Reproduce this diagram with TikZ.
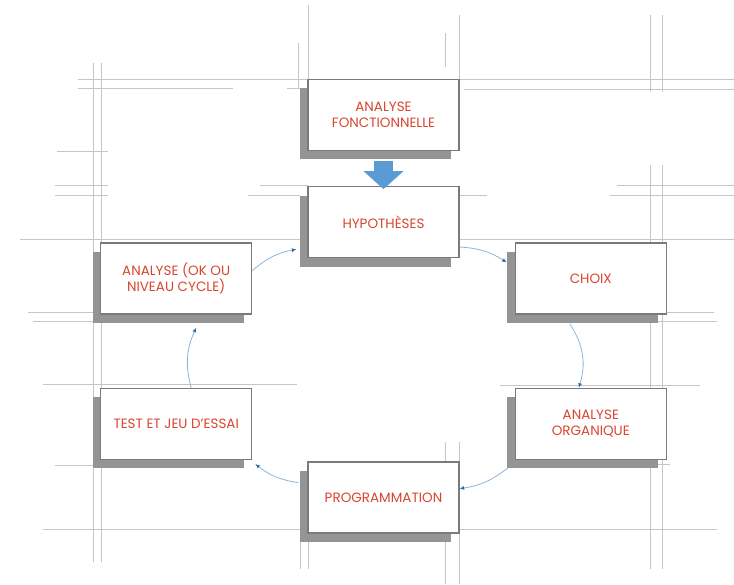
\documentclass[tikz,border=0pt]{standalone}
\usepackage{fontspec}
\setmainfont{Poppins}
\usepackage{tikz}
\usetikzlibrary{arrows.meta,positioning,shadows}
\definecolor{Rouge}{HTML}{D9452F}
\definecolor{Cadre}{HTML}{7A7A7A}
\definecolor{Ombre}{HTML}{949494}
\definecolor{Trait}{HTML}{C6C6C6}
\definecolor{BleuFleche}{HTML}{5B9BD5}
\definecolor{BleuClair}{HTML}{8DB4D9}
\definecolor{BleuFonce}{HTML}{2D6AA3}

\begin{document}
\begin{tikzpicture}[
  x=1pt, y=-1pt,
  node distance=35pt and 55pt,
  etape/.style={
    draw=Cadre,
    line width=1.3pt,
    fill=white,
    align=center,
    minimum width=151pt,
    minimum height=71pt,
    inner sep=2pt,
    text=Rouge,
    font=\fontsize{13.5}{16}\selectfont,
    general shadow={fill=Ombre, shadow xshift=-8pt, shadow yshift=-9pt}
  },
  guide/.style={draw=Trait, line width=0.7pt},
  lien/.style={draw=BleuClair, line width=0.8pt, -{Latex[length=4.5pt,width=4pt,color=BleuFonce]}},
  fleche/.style={draw=BleuFleche, line width=19pt, -{Triangle[length=18pt,width=39pt]}}
]
  \useasboundingbox (0,0) rectangle (734,585);

  \draw[guide] (78,79) -- (734,79) (78,88) -- (233,88) (287,88) -- (300,88) (464,89) -- (734,89)
    (57,151) -- (108,151) (55,185) -- (108,185) (260,185) -- (308,185) (617,185) -- (734,185)
    (55,195) -- (108,195) (248,195) -- (300,195) (459,195) -- (487,195) (610,195) -- (734,195)
    (20,239) -- (734,239) (28,312) -- (103,312) (33,321) -- (94,321) (664,312) -- (714,312)
    (652,321) -- (717,321) (43,384) -- (297,384) (500,385) -- (700,385) (55,465) -- (94,465)
    (652,464) -- (670,464) (43,529) -- (300,529) (459,529) -- (717,529);
  \draw[guide] (93,63) -- (93,562) (101,63) -- (101,562) (298,43) -- (298,88) (308,5) -- (308,80)
    (459,15) -- (459,80) (445,33) -- (445,67) (650,15) -- (650,92) (662,15) -- (662,92)
    (650,165) -- (650,569) (662,165) -- (662,569) (445,442) -- (445,584) (459,442) -- (459,584)
    (308,539) -- (308,569) (300,539) -- (300,569);

  \node[etape] (fonc) at (383.5,115) {ANALYSE\\FONCTIONNELLE};
  \node[etape, below=of fonc] (hyp) {HYPOTHÈSES};
  \node[etape, below right=-16pt and 55pt of hyp] (choix) {CHOIX};
  \node[etape, below left=-16pt and 55pt of hyp] (anok) {ANALYSE (OK OU\\NIVEAU CYCLE)};
  \node[etape, below=73pt of choix] (orga) {ANALYSE\\ORGANIQUE};
  \node[etape, below=73pt of anok] (test) {TEST ET JEU D’ESSAI};
  \node[etape, below=203pt of hyp] (prog) {PROGRAMMATION};

  \draw[fleche] ([yshift=-10pt]fonc.south) -- ([yshift=-3pt]hyp.north);
  \draw[lien] (hyp.-18) to[bend left=15] ([xshift=-8pt]choix.168);
  \draw[lien] ([xshift=-21pt,yshift=-9pt]choix.south) to[bend left=25] ([xshift=-12pt]orga.north);
  \draw[lien] ([xshift=-7pt,yshift=-8pt]orga.south west) to[bend left=15] ([yshift=9pt]prog.east);
  \draw[lien] ([xshift=-9pt,yshift=15pt]prog.west) to[bend left=15] ([xshift=3pt,yshift=-4pt]test.south east);
  \draw[lien] ([xshift=15pt]test.north) to[bend left=20] ([xshift=20pt,yshift=-13pt]anok.south);
  \draw[lien] ([yshift=8pt]anok.east) to[bend left=15] ([xshift=-11pt,yshift=-27pt]hyp.west);
\end{tikzpicture}
\end{document}
